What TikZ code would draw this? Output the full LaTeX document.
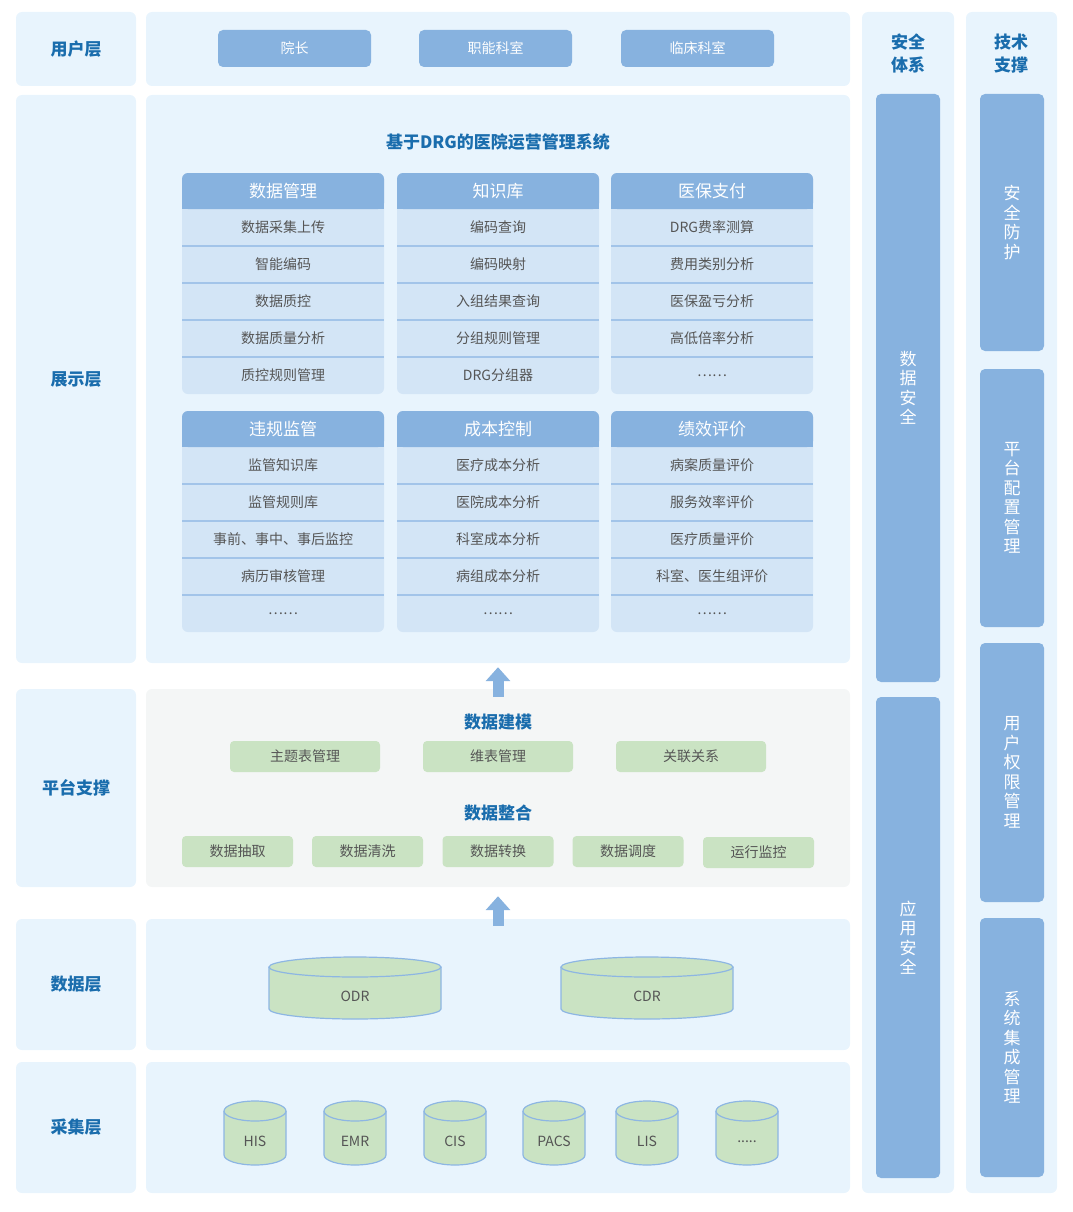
\documentclass[tikz,border=0pt]{standalone}
\usepackage{fontspec}
\setmainfont{Noto Sans CJK SC}
\usetikzlibrary{arrows.meta}

\definecolor{panelbg}{HTML}{E8F4FD}
\definecolor{platbg}{HTML}{F4F6F6}
\definecolor{barblue}{HTML}{87B2DF}
\definecolor{rowblue}{HTML}{D3E5F6}
\definecolor{sepblue}{HTML}{A2C4E9}
\definecolor{cylgreen}{HTML}{CAE3C3}
\definecolor{cylline}{HTML}{8DB6E3}
\definecolor{titleblue}{HTML}{1A6DAD}
\definecolor{itemgray}{HTML}{555555}

\tikzset{
  panel/.style={fill=panelbg, rounded corners=6pt, inner sep=0pt},
  layer/.style={panel, minimum width=120pt, text=titleblue, font=\fontsize{17}{17}\selectfont\bfseries},
  coltitle/.style={text=titleblue, align=center, font=\fontsize{17}{23}\selectfont\bfseries},
  vbar/.style={fill=barblue, rounded corners=5pt, minimum width=64pt, text=white, align=center, inner sep=0pt, font=\fontsize{17}{19.5}\selectfont},
  ubox/.style={fill=barblue, rounded corners=5pt, minimum width=153pt, minimum height=37pt, text=white, font=\fontsize{14}{14}\selectfont},
  hdr/.style={text=white, font=\fontsize{17}{17}\selectfont},
  item/.style={text=itemgray, font=\fontsize{14}{14}\selectfont},
  sep/.style={sepblue, line width=2pt},
  gbox/.style={fill=cylgreen, rounded corners=4pt, minimum height=31pt, text=itemgray, font=\fontsize{14}{14}\selectfont},
  subtitle/.style={text=titleblue, font=\fontsize{17}{17}\selectfont\bfseries},
  cyl/.style={fill=cylgreen, draw=cylline, line width=1.2pt},
  cyltext/.style={text=itemgray, font=\fontsize{14}{14}\selectfont},
  uparrow/.style={barblue, line width=11pt, -{Triangle[width=24pt,length=14pt]}}
}

\newcommand{\modtable}[5]{
  \fill[rowblue, rounded corners=6pt] ({#2},{#3}) rectangle ({#2+202},{#3+221});
  \fill[barblue, rounded corners=6pt] ({#2},{#3}) rectangle ({#2+202},{#3+36});
  \fill[barblue] ({#2},{#3+18}) rectangle ({#2+202},{#3+36});
  \node[hdr] (#1) at ({#2+101},{#3+18}) {#4};
  \foreach \t [count=\i] in {#5} {
    \node[item] (#1-\i) at ({#2+101},{#3+17.5+37*\i}) {\t};
  }
  \foreach \i in {1,...,4}
    \draw[sep] ({#2},{#3+36+37*\i}) -- ({#2+202},{#3+36+37*\i});
}

\newcommand{\dbcyl}[7]{
  \filldraw[cyl] ({#2-#4/2},{#3+#6}) -- ({#2-#4/2},{#3+#5-#6})
    arc[start angle=180, end angle=0, x radius={#4/2}, y radius=#6] -- ({#2+#4/2},{#3+#6});
  \filldraw[cyl] (#2,{#3+#6}) ellipse [x radius={#4/2}, y radius=#6];
  \node[cyltext] (#1) at (#2,{#3+0.63*#5}) {#7};
}

\begin{document}
\begin{tikzpicture}[x=1pt, y=-1pt]
  \useasboundingbox (0,0) rectangle (1072,1212);

  \node[layer, minimum height=74pt] (lUser) at (76,49) {用户层};
  \node[layer, minimum height=568pt] (lShow) at (76,379) {展示层};
  \node[layer, minimum height=198pt] (lPlat) at (76,788) {平台支撑};
  \node[layer, minimum height=131pt] (lData) at (76,984.5) {数据层};
  \node[layer, minimum height=131pt] (lColl) at (76,1127.5) {采集层};

  \node[panel, minimum width=704pt, minimum height=74pt] (user) at (498,49) {};
  \node[panel, minimum width=704pt, minimum height=568pt] (show) at (498,379) {};
  \node[panel, fill=platbg, minimum width=704pt, minimum height=198pt] (plat) at (498,788) {};
  \node[panel, minimum width=704pt, minimum height=131pt] (data) at (498,984.5) {};
  \node[panel, minimum width=704pt, minimum height=131pt] (coll) at (498,1127.5) {};

  \node[panel, minimum width=92pt, minimum height=1181pt] (sec) at (908,602.5) {};
  \node[panel, minimum width=91pt, minimum height=1181pt] (tech) at (1011.5,602.5) {};
  \node[coltitle] (secT) at (908,53.5) {安全\\体系};
  \node[coltitle] (techT) at (1011,53.5) {技术\\支撑};

  \node[vbar, minimum height=588pt] (sjaq) at (908,388) {数\\据\\安\\全};
  \node[vbar, minimum height=481pt] (yyaq) at (908,937.5) {应\\用\\安\\全};
  \node[vbar, minimum height=257pt] (aqfh) at (1012,222.5) {安\\全\\防\\护};
  \node[vbar, minimum height=258pt] (ptpz) at (1012,498) {平\\台\\配\\置\\管\\理};
  \node[vbar, minimum height=259pt] (yhqx) at (1012,772.5) {用\\户\\权\\限\\管\\理};
  \node[vbar, minimum height=259pt] (xtjc) at (1012,1047.5) {系\\统\\集\\成\\管\\理};

  \node[ubox] (yz) at (294.5,48.5) {院长};
  \node[ubox] (znks) at (495.5,48.5) {职能科室};
  \node[ubox] (lcks) at (697.5,48.5) {临床科室};

  \node[subtitle] (sysT) at (498,142) {基于DRG的医院运营管理系统};
  \modtable{dm}{182}{173}{数据管理}{数据采集上传,智能编码,数据质控,数据质量分析,质控规则管理}
  \modtable{zsk}{397}{173}{知识库}{编码查询,编码映射,入组结果查询,分组规则管理,DRG分组器}
  \modtable{yb}{611}{173}{医保支付}{DRG费率测算,费用类别分析,医保盈亏分析,高低倍率分析,……}
  \modtable{wg}{182}{411}{违规监管}{监管知识库,监管规则库,事前、事中、事后监控,病历审核管理,……}
  \modtable{cb}{397}{411}{成本控制}{医疗成本分析,医院成本分析,科室成本分析,病组成本分析,……}
  \modtable{jx}{611}{411}{绩效评价}{病案质量评价,服务效率评价,医疗质量评价,科室、医生组评价,……}

  \node[subtitle] (sjjm) at (498,722) {数据建模};
  \node[gbox, minimum width=150pt] (ztb) at (305,756.5) {主题表管理};
  \node[gbox, minimum width=150pt] (wb) at (498,756.5) {维表管理};
  \node[gbox, minimum width=150pt] (gl) at (691,756.5) {关联关系};
  \node[subtitle] (sjzh) at (498,813) {数据整合};
  \node[gbox, minimum width=111pt] (cq) at (237.5,851.5) {数据抽取};
  \node[gbox, minimum width=111pt] (qx) at (367.5,851.5) {数据清洗};
  \node[gbox, minimum width=111pt] (zh) at (498,851.5) {数据转换};
  \node[gbox, minimum width=111pt] (dd) at (628,851.5) {数据调度};
  \node[gbox, minimum width=111pt] (jk) at (758.5,852.5) {运行监控};

  \draw[uparrow] ([yshift=-8pt]plat.north) -- ([yshift=-4pt]show.south);
  \draw[uparrow] ([yshift=-7pt]data.north) -- ([yshift=-9pt]plat.south);

  \dbcyl{odr}{355}{957}{172}{62}{10}{ODR}
  \dbcyl{cdr}{647}{957}{172}{62}{10}{CDR}
  \foreach \n/\x/\t in {his/255/HIS, emr/355/EMR, cis/455/CIS, pacs/554/PACS, lis/647/LIS}
    \dbcyl{\n}{\x}{1101}{62}{64}{10}{\t};
  \dbcyl{etc}{747}{1101}{62}{64}{10}{.....}
\end{tikzpicture}
\end{document}
